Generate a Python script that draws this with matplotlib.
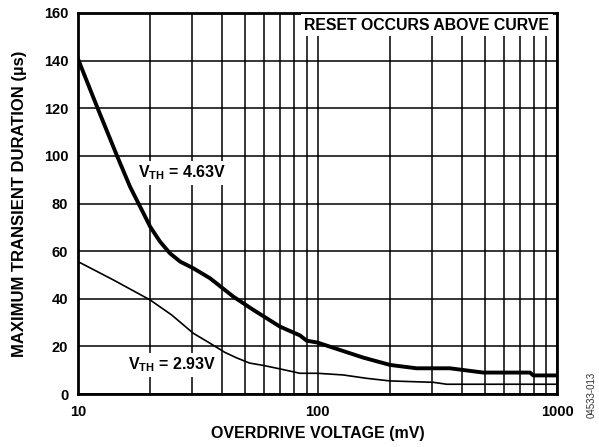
import numpy as np
import matplotlib
import matplotlib.pyplot as plt
from matplotlib.ticker import FixedLocator, NullFormatter

matplotlib.rcParams['font.family'] = ['Liberation Sans', 'DejaVu Sans']
matplotlib.rcParams['font.weight'] = 'bold'
matplotlib.rcParams['mathtext.fontset'] = 'custom'
matplotlib.rcParams['mathtext.bf'] = 'Liberation Sans:bold'
matplotlib.rcParams['mathtext.rm'] = 'Liberation Sans:bold'

# V_TH = 4.63V curve
x_hi = [10, 12, 14.5, 16.5, 19.4, 20, 22, 24.2, 26.7, 30.3, 35.6, 44.5, 54, 69.7, 84.5,
        90, 100, 124, 155, 201, 259, 357, 492, 771, 796, 1000]
y_hi = [140.7, 120.7, 100.4, 87, 73, 70.3, 64, 59.1, 55.6, 52.8, 48.6, 40.9, 35.3, 28.3, 24.6,
        22.4, 21.6, 18.5, 15.3, 12.2, 10.8, 10.8, 9.0, 9.0, 7.8, 7.8]

# V_TH = 2.93V curve
x_lo = [10, 14.05, 20, 24.6, 30.3, 35.6, 41, 45.9, 52, 59.4, 70, 84.5, 100, 128, 160, 200,
        305, 346, 1000]
y_lo = [55.6, 47.9, 39.5, 33.2, 25.5, 21.3, 17.5, 15.2, 13.0, 12.0, 10.5, 8.7, 8.7, 8.0,
        6.6, 5.5, 4.9, 4.1, 4.1]

y_ticks = [0, 20, 40, 60, 80, 100, 120, 140, 160]
x_ticks = [10, 100, 1000]

fig = plt.figure(figsize=(5.99, 4.47), dpi=100)
ax = fig.add_axes([78 / 599, 53 / 447, 479 / 599, 381 / 447])

ax.set_xscale('log')
ax.set_xlim(10, 1000)
ax.set_ylim(0, 160)

minor = [m * d for d in (10, 100) for m in range(2, 10)]
ax.xaxis.set_major_locator(FixedLocator(x_ticks))
ax.xaxis.set_minor_locator(FixedLocator(minor))
ax.xaxis.set_minor_formatter(NullFormatter())
ax.set_xticklabels([str(t) for t in x_ticks])
ax.set_yticks(y_ticks)

ax.grid(True, which='both', axis='x', color='black', linewidth=1.1)
ax.grid(True, which='major', axis='y', color='black', linewidth=1.1)
ax.tick_params(which='both', length=0, labelsize=10.5)
ax.tick_params(axis='x', pad=8)
ax.tick_params(axis='y', pad=7)
for s in ax.spines.values():
    s.set_linewidth(2)

ax.plot(x_hi, y_hi, color='black', linewidth=2.8, zorder=3)
ax.plot(x_lo, y_lo, color='black', linewidth=1.2, zorder=3)

box = dict(facecolor='white', edgecolor='none', pad=2)
ax.text(27.2, 92.9, r'V$_{\mathbf{TH}}$ = 4.63V', ha='center', va='center',
        fontsize=11.5, fontweight='bold', bbox=box, zorder=4)
ax.text(24.7, 12.2, r'V$_{\mathbf{TH}}$ = 2.93V', ha='center', va='center',
        fontsize=11.5, fontweight='bold', bbox=box, zorder=4)
ax.text(0.7286, 0.968, 'RESET OCCURS ABOVE CURVE', transform=ax.transAxes,
        ha='center', va='center', fontsize=11.4, fontweight='bold',
        bbox=dict(facecolor='white', edgecolor='none', pad=2.5), zorder=4)

ax.set_xlabel('OVERDRIVE VOLTAGE (mV)', fontsize=11.5, fontweight='bold', labelpad=5)
ax.set_ylabel('MAXIMUM TRANSIENT DURATION (µs)', fontsize=12, fontweight='bold', labelpad=12)

fig.text(592 / 599, 1 - 395 / 447, '04533-013', rotation=90, ha='center', va='center',
         fontsize=7, fontweight='normal', color='#333333')

fig.savefig('out.png', dpi=100, facecolor='white')
